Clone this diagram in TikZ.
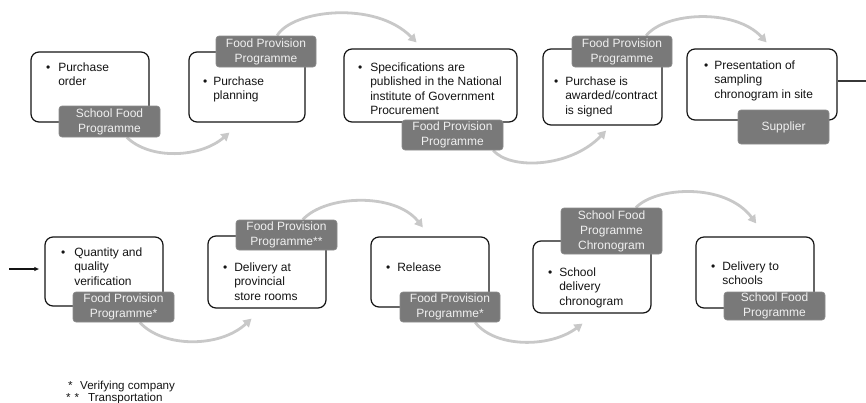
\documentclass[tikz,border=0pt]{standalone}
\usepackage{fontspec}
\setmainfont{Liberation Sans}
\usetikzlibrary{arrows.meta,calc,backgrounds}
\definecolor{labgray}{RGB}{121,121,121}
\definecolor{labedge}{RGB}{140,140,140}
\definecolor{arcgray}{RGB}{200,200,200}
\definecolor{ink}{RGB}{20,20,20}
\tikzset{
  procbox/.style={draw=ink, line width=1.2pt, rounded corners=8pt, fill=white, inner sep=0pt},
  lab/.style={fill=labgray, draw=labedge, line width=0.6pt, rounded corners=3pt,
    text=white!94!black, font=\fontsize{12}{15}\selectfont, align=center, inner sep=0pt},
  btext/.style={anchor=base west, inner sep=0pt, text=ink, font=\fontsize{12}{14.5}\selectfont},
  foot/.style={anchor=base west, inner sep=0pt, text=ink, font=\fontsize{11.6}{12}\selectfont},
  flow/.style={draw=arcgray, line width=2.8pt, -{Triangle[length=8pt,width=9pt]}},
}
\newcommand\mkbox[5]{\node[procbox,minimum width={(#4-#2)*1pt},minimum height={(#5-#3)*1pt}] (#1) at ({(#2+#4)/2},{(#3+#5)/2}) {};}
\newcommand\mklab[6]{\node[lab,minimum width={(#4-#2)*1pt},minimum height={(#5-#3)*1pt}] (#1) at ({(#2+#4)/2},{(#3+#5)/2}) {#6};}
\newcommand\mktext[5]{\node[btext] (#1) at (#2,#3) {\begin{tabular}[t]{@{}l@{\hspace{#4pt}}l@{}}\textbullet & #5\end{tabular}};}
\begin{document}
\begin{tikzpicture}[x=1pt,y=-1pt]
\useasboundingbox (0,0) rectangle (866,402);
% ---- row 1 boxes
\mkbox{b1}{31}{52}{149}{122}
\mkbox{b2}{189}{52}{305}{122}
\mkbox{b3}{344}{49}{517}{122}
\mkbox{b4}{543}{49}{662}{125}
\mkbox{b5}{687}{49}{837}{120}
% ---- row 2 boxes
\mkbox{b6}{45}{237}{163}{306}
\mkbox{b7}{208}{236}{326}{308}
\mkbox{b8}{371}{237}{489}{307}
\mkbox{b9}{533}{241}{651}{313}
\mkbox{b10}{696}{237}{814}{308}
% ---- box texts
\mktext{t1}{46}{71}{7.9}{Purchase\\ & order}
\mktext{t2}{203}{85}{5.9}{Purchase\\ & planning}
\mktext{t3}{358}{71}{7.9}{Specifications are\\ & published in the National\\ & institute of Government\\ & Procurement}
\mktext{t4}{554}{85}{6.9}{Purchase is\\ & awarded/contract\\ & is signed}
\mktext{t5}{704}{69}{5.9}{Presentation of\\ & sampling\\ & chronogram in site}
\mktext{t6}{61}{256}{8.9}{Quantity and\\ & quality\\ & verification}
\mktext{t7}{223}{271}{6.9}{Delivery at\\ & provincial\\ & store rooms}
\mktext{t8}{386}{271}{6.9}{Release}
\mktext{t9}{548}{276}{6.9}{School\\ & delivery\\ & chronogram}
\mktext{t10}{711}{270}{6.9}{Delivery to\\ & schools}
% ---- labels
\mklab{l1}{59}{106}{160}{137}{School Food\\Programme}
\mklab{l2}{216}{36}{316}{67}{Food Provision\\Programme}
\mklab{l3}{402}{120}{503}{150}{Food Provision\\Programme}
\mklab{l4}{572}{36}{672}{67}{Food Provision\\Programme}
\mklab{l5}{738}{110}{829}{144}{Supplier}
\mklab{l6}{73}{292}{174}{322}{Food Provision\\Programme*}
\mklab{l7}{236}{220}{337}{250}{Food Provision\\Programme**}
\mklab{l8}{400}{292}{500}{322}{Food Provision\\Programme*}
\mklab{l9}{561}{208}{662}{254}{School Food\\Programme\\Chronogram}
\mklab{l10}{724}{292}{825}{320}{School Food\\Programme}
% ---- connectors between rows
\coordinate (out1) at (866,81);
\coordinate (in1) at (9,269);
\draw[ink!85, line width=1.4pt] (b5.east |- out1) -- (out1);
\draw[ink, line width=1.1pt, -{Latex[length=5pt,width=4.5pt]}, shorten >=5pt] (in1) -- (b6.west |- in1);
% ---- grey flow arcs
\begin{scope}[on background layer]
\draw[flow] ($(l1.south west)!0.67!(l1.south east)$) .. controls (150,160) and (200,158) .. ($(b2.south west)!0.35!(b2.south east)+(0,10)$);
\draw[flow] ($(l2.north west)!0.61!(l2.north east)$) .. controls (292,10) and (375,0) .. ($(b3.north west)!0.42!(b3.north east)+(0,-6)$);
\draw[flow] ($(l3.south west)!0.9!(l3.south east)$) .. controls (510,170) and (570,168) .. ($(b4.south west)!0.53!(b4.south east)+(0,5)$);
\draw[flow] ($(l4.north west)!0.74!(l4.north east)$) .. controls (665,12) and (735,8) .. ($(b5.north west)!0.53!(b5.north east)+(0,-6)$);
\draw[flow] ($(l6.south west)!0.66!(l6.south east)$) .. controls (163,348) and (220,348) .. ($(b7.south west)!0.37!(b7.south east)+(0,10)$);
\draw[flow] ($(l7.north west)!0.66!(l7.north east)$) .. controls (325,195) and (395,192) .. ($(b8.north west)!0.44!(b8.north east)+(0,-9)$);
\draw[flow] ($(l8.south west)!0.75!(l8.south east)$) .. controls (495,348) and (550,348) .. ($(b9.south west)!0.42!(b9.south east)+(0,10)$);
\draw[flow] ($(l9.north west)!0.74!(l9.north east)$) .. controls (655,187) and (725,182) .. ($(b10.north west)!0.51!(b10.north east)+(0,-13)$);
\end{scope}
% ---- footnotes
\node[foot] (fa1) at (68,389) {*};
\node[foot] (fb1) at (80,389) {Verifying company};
\node[foot] (fa2) at (66,401) {*\,\,*};
\node[foot] (fb2) at (88,401) {Transportation};
\end{tikzpicture}
\end{document}
